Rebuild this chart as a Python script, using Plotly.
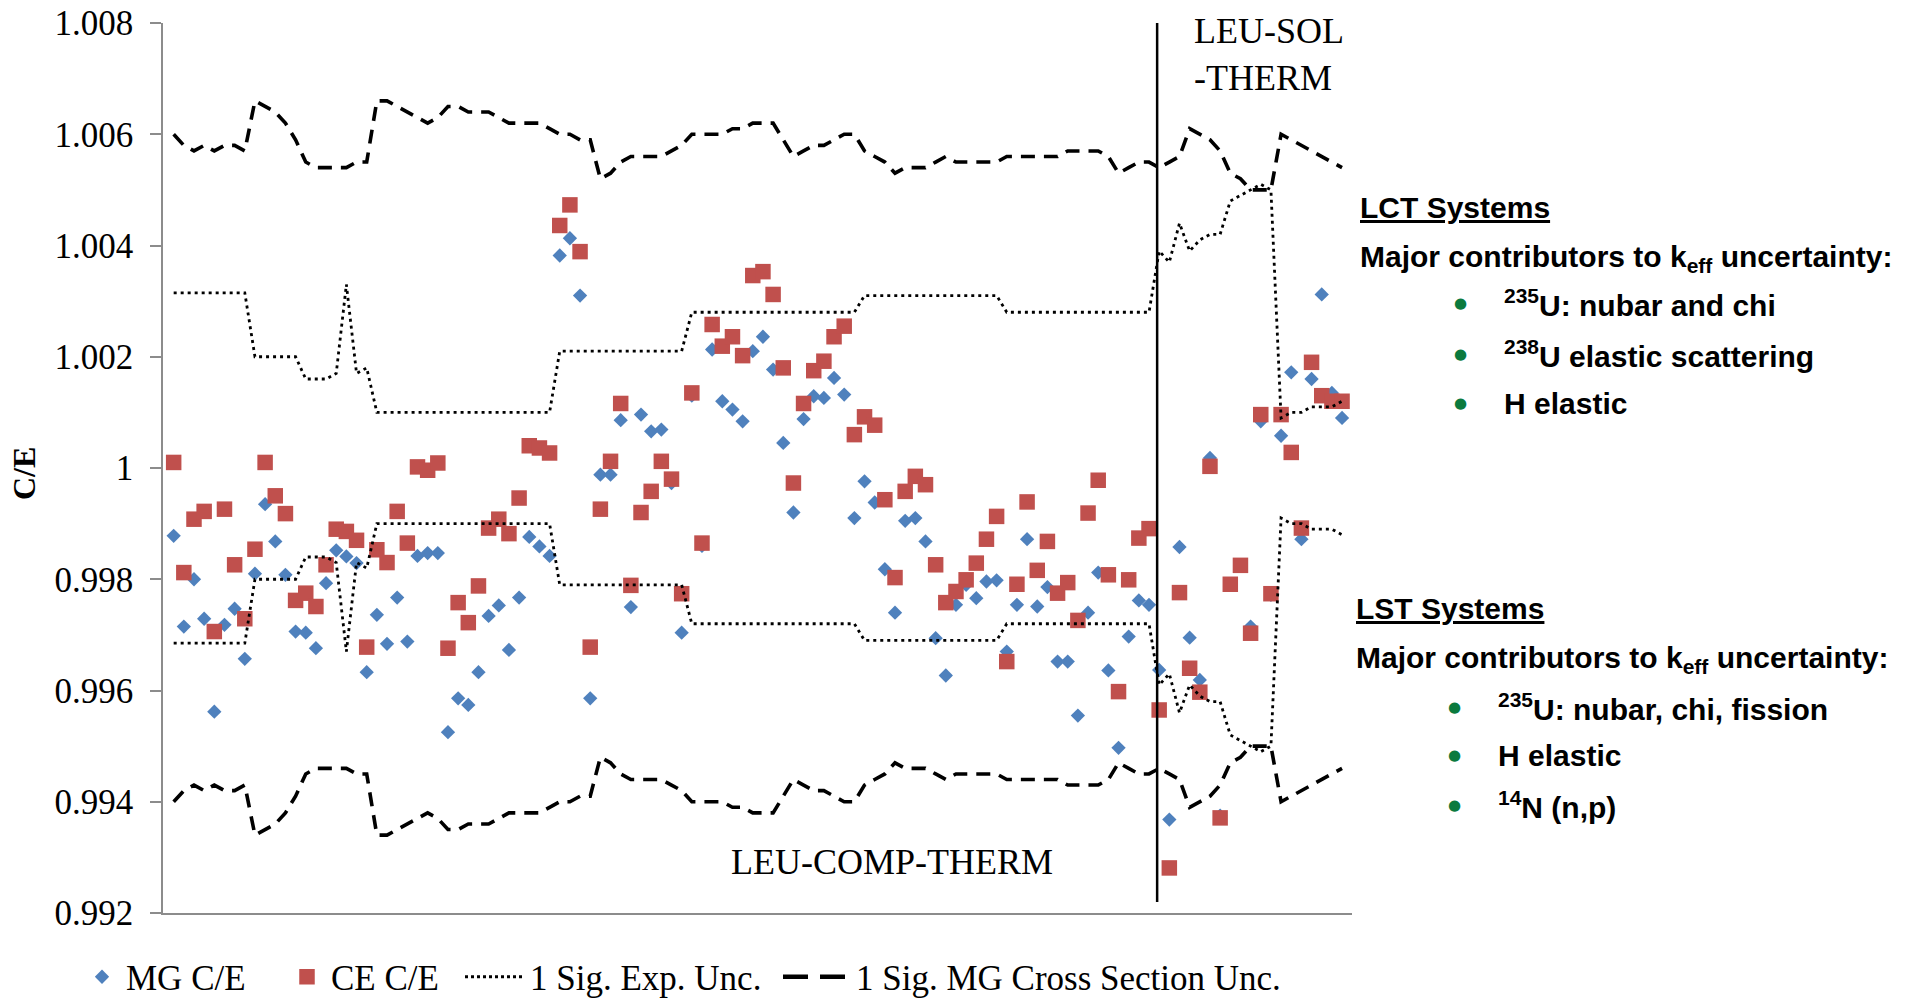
import plotly.graph_objects as go

# ---- data -----------------------------------------------------------------
# benchmark index along the x axis (LCT cases first, then LST cases)
case_index = list(range(1, 117))

mg_ce = [
    0.99878, 0.99715, 0.99800, 0.99729, 0.99562, 0.99718, 0.99747, 0.99657, 0.99810, 0.99935,
    0.99868, 0.99808, 0.99706, 0.99704, 0.99676, 0.99793, 0.99852, 0.99841, 0.99829, 0.99633,
    0.99736, 0.99684, 0.99767, 0.99688, 0.99842, 0.99847, 0.99847, 0.99525, 0.99586, 0.99574,
    0.99633, 0.99734, 0.99753, 0.99673, 0.99767, 0.99876, 0.99859, 0.99842, 1.00382, 1.00413,
    1.00310, 0.99586, 0.99988, 0.99988, 1.00086, 0.99750, 1.00096, 1.00066, 1.00069, 0.99973,
    0.99704, 1.00130, 0.99860, 1.00213, 1.00120, 1.00105, 1.00084, 1.00210, 1.00236, 1.00177,
    1.00045, 0.99920, 1.00088, 1.00129, 1.00126, 1.00162, 1.00132, 0.99910, 0.99976, 0.99938,
    0.99818, 0.99740, 0.99905, 0.99910, 0.99868, 0.99694, 0.99627, 0.99754, 0.99790, 0.99766,
    0.99796, 0.99798, 0.99670, 0.99754, 0.99872, 0.99751, 0.99786, 0.99652, 0.99652, 0.99555,
    0.99740, 0.99812, 0.99636, 0.99497, 0.99697, 0.99762, 0.99754, 0.99637, 0.99368, 0.99858,
    0.99695, 0.99619, 1.00018, 0.99375, 0.99790, 0.99825, 0.99715, 1.00084, 0.99772, 1.00058,
    1.00172, 0.99872, 1.00160, 1.00312, 1.00135, 1.00090,
]

ce_ce = [
    1.00010, 0.99812, 0.99908, 0.99922, 0.99706, 0.99926, 0.99826, 0.99729, 0.99854, 1.00010,
    0.99950, 0.99918, 0.99762, 0.99775, 0.99751, 0.99826, 0.99890, 0.99886, 0.99870, 0.99678,
    0.99853, 0.99830, 0.99922, 0.99865, 1.00002, 0.99996, 1.00009, 0.99676, 0.99758, 0.99722,
    0.99788, 0.99892, 0.99908, 0.99882, 0.99946, 1.00040, 1.00036, 1.00027, 1.00436, 1.00473,
    1.00389, 0.99678, 0.99926, 1.00012, 1.00116, 0.99789, 0.99920, 0.99958, 1.00012, 0.99980,
    0.99774, 1.00135, 0.99865, 1.00258, 1.00219, 1.00236, 1.00202, 1.00346, 1.00353, 1.00312,
    1.00180, 0.99973, 1.00116, 1.00175, 1.00192, 1.00236, 1.00255, 1.00060, 1.00092, 1.00077,
    0.99943, 0.99803, 0.99958, 0.99985, 0.99970, 0.99826, 0.99758, 0.99778, 0.99799, 0.99829,
    0.99872, 0.99913, 0.99652, 0.99791, 0.99939, 0.99816, 0.99868, 0.99775, 0.99794, 0.99726,
    0.99919, 0.99978, 0.99808, 0.99598, 0.99799, 0.99874, 0.99891, 0.99565, 0.99281, 0.99776,
    0.99640, 0.99597, 1.00003, 0.99371, 0.99791, 0.99825, 0.99703, 1.00096, 0.99774, 1.00096,
    1.00028, 0.99892, 1.00190, 1.00130, 1.00120, 1.00120,
]

# one-sigma experimental uncertainty (band drawn at 1 +/- value)
exp_unc = (
    [0.00315] * 8 + [0.0020] * 5 + [0.0016] * 3 + [0.0017, 0.0033, 0.0017, 0.0018]
    + [0.0010] * 18 + [0.0021] * 13 + [0.0028] * 17 + [0.0031] * 14 + [0.0028] * 15
    + [0.0039, 0.0037, 0.0044, 0.0039, 0.0041, 0.0042, 0.0042, 0.0048, 0.0049, 0.0050,
       0.0051, 0.0050, 0.0009, 0.0010, 0.0010, 0.0011, 0.0011, 0.0011, 0.0012]
)

# one-sigma MG cross-section uncertainty (band drawn at 1 +/- value)
xs_unc = [
    0.0060, 0.0058, 0.0057, 0.0058, 0.0057, 0.0058, 0.0058, 0.0057, 0.0066, 0.0065,
    0.0064, 0.0062, 0.0059, 0.0055, 0.0054, 0.0054, 0.0054, 0.0054, 0.0055, 0.0055,
    0.0066, 0.0066, 0.0065, 0.0064, 0.0063, 0.0062, 0.0063, 0.0065, 0.0065, 0.0064,
    0.0064, 0.0064, 0.0063, 0.0062, 0.0062, 0.0062, 0.0062, 0.0061, 0.0060, 0.0060,
    0.0059, 0.0059, 0.0052, 0.0053, 0.0055, 0.0056, 0.0056, 0.0056, 0.0056, 0.0057,
    0.0058, 0.0060, 0.0060, 0.0060, 0.0060, 0.0061, 0.0061, 0.0062, 0.0062, 0.0062,
    0.0059, 0.0056, 0.0057, 0.0058, 0.0058, 0.0059, 0.0060, 0.0060, 0.0057, 0.0056,
    0.0055, 0.0053, 0.0054, 0.0054, 0.0054, 0.0055, 0.0056, 0.0055, 0.0055, 0.0055,
    0.0055, 0.0055, 0.0056, 0.0056, 0.0056, 0.0056, 0.0056, 0.0056, 0.0057, 0.0057,
    0.0057, 0.0057, 0.0056, 0.0053, 0.0054, 0.0055, 0.0055, 0.0054, 0.0055, 0.0056,
    0.0061, 0.0060, 0.0059, 0.0057, 0.0053, 0.0052, 0.0050, 0.0050, 0.0050, 0.0060,
    0.0059, 0.0058, 0.0057, 0.0056, 0.0055, 0.0054,
]

# boundary between the LEU-COMP-THERM and LEU-SOL-THERM cases
family_split = 97.8

y_ticks = [0.992, 0.994, 0.996, 0.998, 1.000, 1.002, 1.004, 1.006, 1.008]
y_tick_text = ["0.992", "0.994", "0.996", "0.998", "1", "1.002", "1.004", "1.006", "1.008"]

# ---- layout helpers ---------------------------------------------------------
W, H = 1919, 1002
L, R, T, B = 163, 1352, 23, 913          # plotting-area frame in page pixels


def fx(px):
    return (px - L) / (R - L)


def fy(py):
    return (B - py) / (B - T)


SERIF = "Liberation Serif, Times New Roman, serif"
SANS = "Liberation Sans, Arial, sans-serif"
BLUE = "#4F81BD"
RED = "#C0504D"
GREEN = "#0B7A3E"
AXIS_GREY = "#8C8C8C"

upper = lambda u: [1 + v for v in u]
lower = lambda u: [1 - v for v in u]

fig = go.Figure()

fig.add_trace(go.Scatter(
    x=case_index, y=mg_ce, mode="markers", name="MG C/E", legend="legend",
    showlegend=True,
    marker=dict(symbol="diamond", color=BLUE, size=11, line=dict(width=0)),
))
fig.add_trace(go.Scatter(
    x=case_index, y=ce_ce, mode="markers", name="CE C/E", legend="legend2",
    marker=dict(symbol="square", color=RED, size=15.5, line=dict(width=0)),
))

dot_style = dict(color="black", width=2.8, dash="3px,4px")
dash_style = dict(color="black", width=3.6, dash="14px,9px")

for ys in (upper(exp_unc), lower(exp_unc)):
    fig.add_trace(go.Scatter(
        x=case_index, y=ys, mode="lines", line=dot_style, showlegend=False,
        legend="legend3", legendgroup="exp", name="1 Sig. Exp. Unc.",
    ))
for ys in (upper(xs_unc), lower(xs_unc)):
    fig.add_trace(go.Scatter(
        x=case_index, y=ys, mode="lines", line=dash_style, showlegend=False,
        legend="legend4", legendgroup="xs", name="1 Sig. MG Cross Section Unc.",
    ))

# legend keys for the two uncertainty bands
fig.add_trace(go.Scatter(
    x=[None], y=[None], mode="lines", name="1 Sig. Exp. Unc.", legend="legend3",
    legendgroup="exp", line=dict(color="black", width=3, dash="3px,3px"),
))
fig.add_trace(go.Scatter(
    x=[None], y=[None], mode="lines", name="1 Sig. MG Cross Section Unc.",
    legend="legend4", legendgroup="xs",
    line=dict(color="black", width=4.5, dash="25px,12px"),
))

# vertical separator between the two benchmark families
fig.add_shape(type="line", xref="x", yref="y", x0=family_split, x1=family_split,
              y0=0.9922, y1=1.0080, line=dict(color="black", width=2.5))

# legends are pinned to the page (container) so they do not shrink the plot area
legend_y = 1 - 977 / H
legend_font = dict(family=SERIF, size=35, color="black")
legend_common = dict(orientation="h", xref="container", yref="container",
                     yanchor="middle", y=legend_y, xanchor="left",
                     font=legend_font, bgcolor="rgba(0,0,0,0)", borderwidth=0)

annotations = [
    dict(text="C/E", x=fx(24), y=fy(474), textangle=-90,
         font=dict(family=SERIF, size=32, color="black", weight="bold")),
    dict(text="LEU-COMP-THERM", x=fx(892), y=fy(862),
         font=dict(family=SERIF, size=36, color="black")),
    dict(text="LEU-SOL<br>-THERM", x=fx(1192), y=fy(55), xanchor="left", align="left",
         font=dict(family=SERIF, size=36, color="black")),
]

side_font = dict(family=SANS, size=30, color="black", weight="bold")
side_text = [
    (1358, 208, "<u>LCT Systems</u>"),
    (1358, 258, "Major contributors to k<sub>eff</sub> uncertainty:"),
    (1502, 303, "<sup>235</sup>U: nubar and chi"),
    (1502, 354, "<sup>238</sup>U elastic scattering"),
    (1502, 403, "H elastic"),
    (1354, 608, "<u>LST Systems</u>"),
    (1354, 659, "Major contributors to k<sub>eff</sub> uncertainty:"),
    (1496, 707, "<sup>235</sup>U: nubar, chi, fission"),
    (1496, 755, "H elastic"),
    (1496, 805, "<sup>14</sup>N (n,p)"),
]
for x0, y0, txt in side_text:
    annotations.append(dict(text=txt, x=fx(x0), y=fy(y0), xanchor="left",
                            font=side_font))
bullets = [(1460, 303), (1460, 354), (1460, 403), (1454, 707), (1454, 755), (1454, 805)]
for x0, y0 in bullets:
    annotations.append(dict(text="●", x=fx(x0), y=fy(y0),
                            font=dict(family="DejaVu Sans", size=15, color=GREEN)))

for a in annotations:
    a.setdefault("xref", "paper")
    a.setdefault("yref", "paper")
    a.setdefault("showarrow", False)
    a.setdefault("xanchor", "center")
    a.setdefault("yanchor", "middle")

fig.update_layout(
    width=W, height=H, showlegend=True,
    margin=dict(l=L, r=W - R, t=T, b=H - B, pad=0, autoexpand=False),
    paper_bgcolor="white", plot_bgcolor="white",
    xaxis=dict(range=[-0.05, 116.98], showgrid=False, zeroline=False,
               showticklabels=False, ticks="", showline=True,
               linecolor=AXIS_GREY, linewidth=1.5),
    yaxis=dict(range=[0.992, 1.008], tickvals=y_ticks, ticktext=y_tick_text,
               ticks="outside", ticklen=11, tickwidth=1.5, tickcolor=AXIS_GREY,
               showgrid=False, zeroline=False, showline=True,
               linecolor=AXIS_GREY, linewidth=1.5, ticklabelstandoff=10,
               tickfont=dict(family=SERIF, size=35, color="black")),
    legend=dict(legend_common, x=78 / W, itemwidth=38),
    legend2=dict(legend_common, x=283 / W, itemwidth=38),
    legend3=dict(legend_common, x=460 / W, itemwidth=60),
    legend4=dict(legend_common, x=778 / W, itemwidth=68),
    annotations=annotations,
)

fig.write_html("out.html")
